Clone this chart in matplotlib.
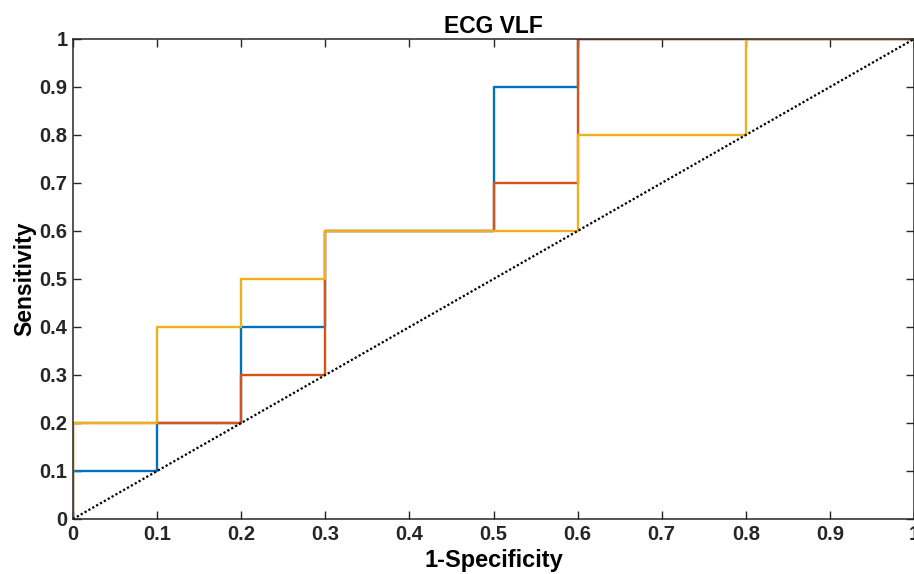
import matplotlib
matplotlib.use('Agg')
import matplotlib.pyplot as plt

# ROC curves (1-specificity, sensitivity)
fpr_blue = [0, 0, 0.1, 0.1, 0.2, 0.2, 0.3, 0.3, 0.5, 0.5, 0.6, 0.6, 1.0]
tpr_blue = [0, 0.1, 0.1, 0.2, 0.2, 0.4, 0.4, 0.6, 0.6, 0.9, 0.9, 1.0, 1.0]
fpr_orange = [0, 0, 0.2, 0.2, 0.3, 0.3, 0.5, 0.5, 0.6, 0.6, 1.0]
tpr_orange = [0, 0.2, 0.2, 0.3, 0.3, 0.6, 0.6, 0.7, 0.7, 1.0, 1.0]
fpr_yellow = [0, 0, 0.1, 0.1, 0.2, 0.2, 0.3, 0.3, 0.6, 0.6, 0.8, 0.8, 1.0]
tpr_yellow = [0, 0.2, 0.2, 0.4, 0.4, 0.5, 0.5, 0.6, 0.6, 0.8, 0.8, 1.0, 1.0]
ref_line = [0, 1]
ticks = [0, 0.1, 0.2, 0.3, 0.4, 0.5, 0.6, 0.7, 0.8, 0.9, 1]
tick_labels = ['0', '0.1', '0.2', '0.3', '0.4', '0.5', '0.6', '0.7', '0.8', '0.9', '1']

plt.rcParams['font.family'] = ['Liberation Sans', 'DejaVu Sans']
fig = plt.figure(figsize=(9.14, 5.74), dpi=100)
ax = fig.add_axes([73 / 914, 1 - 519 / 574, 841 / 914, 480 / 574])

ax.plot(fpr_blue, tpr_blue, color='#0072BD', lw=1.7)
ax.plot(fpr_orange, tpr_orange, color='#D95319', lw=1.7)
ax.plot(fpr_yellow, tpr_yellow, color='#EDB120', lw=1.7)
ax.plot(ref_line, ref_line, color='black', lw=1.6, linestyle=(0, (1, 1)))

ax.set_xlim(0, 1)
ax.set_ylim(0, 1)
ax.set_xticks(ticks)
ax.set_xticklabels(tick_labels, fontsize=14.5, fontweight='bold')
ax.set_yticks(ticks)
ax.set_yticklabels(tick_labels, fontsize=14.5, fontweight='bold')
ax.tick_params(direction='in', length=6, width=1, top=True, right=True,
               colors='#262626', labelcolor='#262626', pad=4)
for s in ax.spines.values():
    s.set_linewidth(1.1)
    s.set_color('#262626')

ax.set_title('ECG VLF', fontsize=16.5, fontweight='bold', pad=4)
ax.set_xlabel('1-Specificity', fontsize=17, fontweight='bold', labelpad=4)
ax.set_ylabel('Sensitivity', fontsize=16.5, fontweight='bold', labelpad=2)

fig.savefig('out.png', dpi=100)
